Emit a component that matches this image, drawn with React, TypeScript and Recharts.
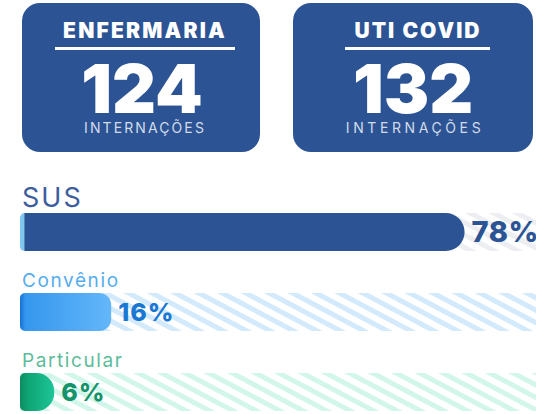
import { Bar, BarChart, XAxis, YAxis } from 'recharts';

const cardTitles = ['ENFERMARIA', 'UTI COVID'];
const cardValues = [124, 132];
const cardCaption = 'INTERNAÇÕES';

const categories = ['SUS', 'Convênio', 'Particular'];
const shares = [78, 16, 6];

const chartData = categories.map((name, i) => ({ name, value: shares[i] }));

const FONT = 'Inter, "Noto Sans", sans-serif';
const NAVY = '#2c5494';
const LABEL_SPACE = 41;

const rowStyles = [
  { label: '#3d5e9e', labelSize: 27, labelSpacing: 2, value: NAVY, valueSize: 29, valueSpacing: 0.5, fill: 'url(#bar-0)', hatch: '#eceef2', radius: 19 },
  { label: '#55acee', labelSize: 19, labelSpacing: 1.6, value: '#1b78d2', valueSize: 25, valueSpacing: 1, fill: 'url(#bar-1)', hatch: '#d3e9fc', radius: 12 },
  { label: '#5cbc9b', labelSize: 19, labelSpacing: 1.6, value: '#15936a', valueSize: 25, valueSpacing: 1, fill: 'url(#bar-2)', hatch: '#d2f7ea', radius: 18 },
];

const cardLayout = [
  { left: 22, width: 238, textX: 123, titleSpacing: 2.2, line: [33, 213], numX: 120, capX: 123, spacing: 2.1 },
  { left: 293, width: 240, textX: 125, titleSpacing: 2, line: [52, 197], numX: 120, capX: 122, spacing: 3.6 },
];

const roundedBar = (x: number, y: number, w: number, h: number, rl: number, rr: number) => {
  const r = Math.max(0, Math.min(rr, h / 2, w - rl));
  return `M${x + rl},${y} H${x + w - r} A${r},${r} 0 0 1 ${x + w},${y + r} V${y + h - r} A${r},${r} 0 0 1 ${x + w - r},${y + h} H${x + rl} A${rl},${rl} 0 0 1 ${x},${y + h - rl} V${y + rl} A${rl},${rl} 0 0 1 ${x + rl},${y} Z`;
};

const BarShape = (props: any) => {
  const { x, y, width, height, payload } = props;
  const i = categories.indexOf(payload.name);
  const s = rowStyles[i];
  const by = y + LABEL_SPACE;
  const bh = height - LABEL_SPACE - 1;
  return (
    <g>
      <text
        x={x + 2}
        y={y + 35}
        fill={s.label}
        fontSize={s.labelSize}
        fontFamily={FONT}
        fontWeight={400}
        letterSpacing={s.labelSpacing}
      >
        {payload.name}
      </text>
      <path d={roundedBar(x, by, width, bh, 5, s.radius)} fill={s.fill} />
      <text
        x={x + width + 7}
        y={by + bh / 2 + s.valueSize * 0.36}
        fill={s.value}
        fontSize={s.valueSize}
        fontFamily={FONT}
        fontWeight={800}
        letterSpacing={s.valueSpacing}
      >
        {`${payload.value}%`}
      </text>
    </g>
  );
};

const Track = (props: any) => {
  const { x, y, width, height, index } = props;
  return (
    <rect
      x={x}
      y={y + LABEL_SPACE}
      width={width}
      height={height - LABEL_SPACE - 1}
      fill={`url(#hatch-${index})`}
    />
  );
};

const Card = ({ i }: { i: number }) => {
  const c = cardLayout[i];
  return (
    <svg
      width={c.width}
      height={149}
      style={{ position: 'absolute', left: c.left, top: 3 }}
    >
      <rect x={0} y={0} width={c.width} height={149} rx={18} fill={NAVY} />
      <text
        x={c.textX}
        y={35}
        textAnchor="middle"
        fill="#fff"
        fontSize={21}
        fontWeight={900}
        fontFamily={FONT}
        letterSpacing={c.titleSpacing}
      >
        {cardTitles[i]}
      </text>
      <rect x={c.line[0]} y={44} width={c.line[1] - c.line[0]} height={3} fill="#fff" />
      <text x={c.numX} y={110} textAnchor="middle" fill="#fff" fontSize={68} fontWeight={900} fontFamily={FONT}>
        {cardValues[i]}
      </text>
      <text
        x={c.capX}
        y={130}
        textAnchor="middle"
        fill="#d3dbea"
        fontSize={14}
        fontFamily={FONT}
        letterSpacing={c.spacing}
      >
        {cardCaption}
      </text>
    </svg>
  );
};

export default function App() {
  return (
    <div
      style={{
        position: 'absolute',
        left: 0,
        top: 0,
        width: 536,
        height: 414,
        overflow: 'hidden',
        background: '#fff',
      }}
    >
      <Card i={0} />
      <Card i={1} />
      <div style={{ position: 'absolute', left: 0, top: 172 }}>
        <BarChart
          width={590}
          height={240}
          data={chartData}
          layout="vertical"
          barCategoryGap={0}
          margin={{ top: 0, right: 0, bottom: 0, left: 20 }}
        >
          <defs>
            <linearGradient id="bar-0" x1="0" y1="0" x2="1" y2="0">
              <stop offset="0%" stopColor="#80c6ee" />
              <stop offset="0.9%" stopColor="#80c6ee" />
              <stop offset="1.1%" stopColor={NAVY} />
              <stop offset="100%" stopColor={NAVY} />
            </linearGradient>
            <linearGradient id="bar-1" x1="0" y1="0" x2="1" y2="0">
              <stop offset="0%" stopColor="#1571d4" />
              <stop offset="6%" stopColor="#3597ee" />
              <stop offset="100%" stopColor="#64b7f9" />
            </linearGradient>
            <linearGradient id="bar-2" x1="0" y1="0" x2="1" y2="0">
              <stop offset="0%" stopColor="#0b8c61" />
              <stop offset="25%" stopColor="#0fa575" />
              <stop offset="100%" stopColor="#1dc597" />
            </linearGradient>
            {rowStyles.map((s, i) => (
              <pattern
                key={i}
                id={`hatch-${i}`}
                width={11}
                height={11}
                patternUnits="userSpaceOnUse"
                patternTransform="rotate(28)"
              >
                <rect x={0} y={0} width={11} height={11} fill="#fff" />
                <rect x={0} y={0} width={11} height={5} fill={s.hatch} />
              </pattern>
            ))}
          </defs>
          <XAxis type="number" domain={[0, 100]} hide />
          <YAxis type="category" dataKey="name" hide width={0} />
          <Bar
            dataKey="value"
            shape={BarShape}
            background={Track}
            isAnimationActive={false}
          />
        </BarChart>
      </div>
    </div>
  );
}
